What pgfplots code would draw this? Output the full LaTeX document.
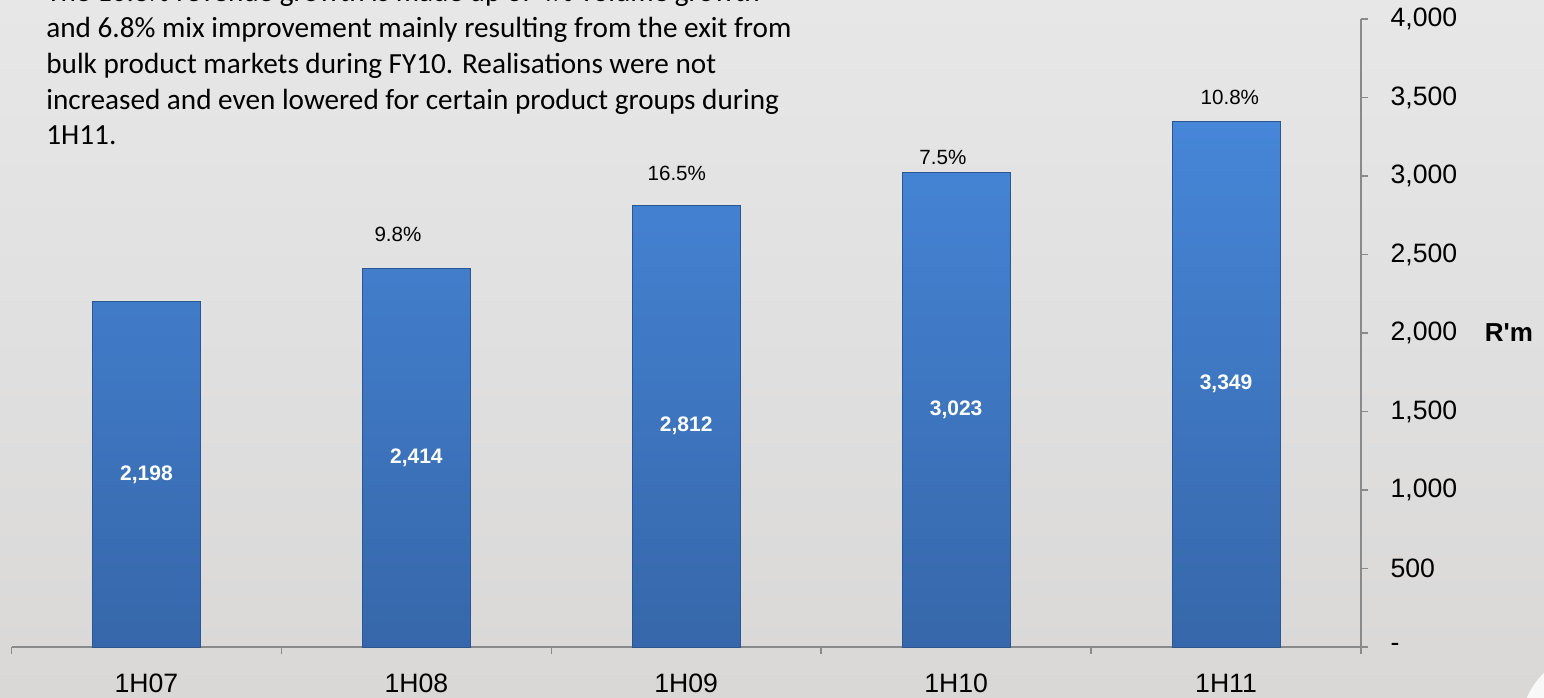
\documentclass[border=0pt]{standalone}
\usepackage{pgfplots}
\pgfplotsset{compat=1.18}
\usepackage{pgfplotstable}
\usepackage{fontspec}
\setmainfont{Liberation Sans}
\newfontfamily\notefont{Carlito}

\definecolor{bgTop}{HTML}{E8E7E8}
\definecolor{bgBot}{HTML}{D9D8D7}
\definecolor{barTop}{HTML}{4686D8}
\definecolor{barBot}{HTML}{3667AA}
\definecolor{barEdge}{HTML}{2B568F}
\definecolor{axisGray}{HTML}{8A8A8A}

% Revenue by half-year, R million
\pgfplotstableread{
x v
0 2198
1 2414
2 2812
3 3023
4 3349
}\revenue

\begin{document}
\begin{tikzpicture}
\path[use as bounding box, clip] (0,0) rectangle (772pt,348.5pt);
\shade[top color=bgTop, bottom color=bgBot] (0,0) rectangle (772pt,348.5pt);
\fill[white!70!bgTop] (800pt,-16.5pt) circle (40pt);

\begin{axis}[
  at={(5.75pt,25pt)}, anchor=south west,
  scale only axis, width=674.75pt, height=314pt,
  xmin=-0.5, xmax=4.5, ymin=0, ymax=4000,
  axis x line*=bottom, axis y line*=right,
  axis line style={axisGray, line width=0.75pt, -},
  tick style={axisGray, line width=0.75pt},
  tick align=outside, major tick length=3.5pt, minor tick length=3.5pt,
  xtick={0,...,4}, xticklabels={1H07,1H08,1H09,1H10,1H11},
  major x tick style={draw=none},
  minor xtick={-0.5,0.5,1.5,2.5,3.5,4.5},
  ytick={0,500,...,4000},
  yticklabels={-,500,{1,000},{1,500},{2,000},{2,500},{3,000},{3,500},{4,000}},
  ticklabel style={font=\fontsize{13.3}{15}\selectfont, text=black},
  yticklabel style={anchor=west, xshift=7.8pt},
  xticklabel style={yshift=-6.5pt},
  /pgf/number format/assume math mode=true,
  /pgf/number format/1000 sep={,},
  clip=false,
]
\addplot[ybar, bar width=0.4, draw=barEdge, line width=0.5pt,
  top color=barTop, bottom color=barBot,
  visualization depends on={\thisrow{v} \as \val},
  nodes near coords,
  nodes near coords style={font=\fontsize{10.5}{12}\selectfont\bfseries,
    text=white, anchor=center, yshift={-0.03925pt*\val}}]
  table[x=x, y=v] {\revenue};

% half-on-half growth
\begin{scope}[every node/.style={font=\fontsize{10.3}{12}\selectfont}]
\node at (axis cs:0.932,2630) {9.8\%};
\node at (axis cs:1.965,3019) {16.5\%};
\node at (axis cs:2.951,3121) {7.5\%};
\node at (axis cs:4.014,3503) {10.8\%};
\end{scope}
\end{axis}

\node[font=\fontsize{13}{15}\selectfont\bfseries] at (754.5pt,182pt) {R\textquotesingle m};

\begin{scope}[every node/.style={anchor=base west, inner sep=0pt,
    font=\notefont\fontsize{14.6}{18}\selectfont}]
\node at (23pt,347.55pt) {The 10.8\% revenue growth is made up of 4\% volume growth};
\node at (23pt,329.65pt) {and 6.8\% mix improvement mainly resulting from the exit from};
\node at (23pt,311.75pt) {bulk product markets during FY10. Realisations were not};
\node at (23pt,293.85pt) {increased and even lowered for certain product groups during};
\node at (23pt,276pt) {1H11.};
\end{scope}
\end{tikzpicture}
\end{document}
